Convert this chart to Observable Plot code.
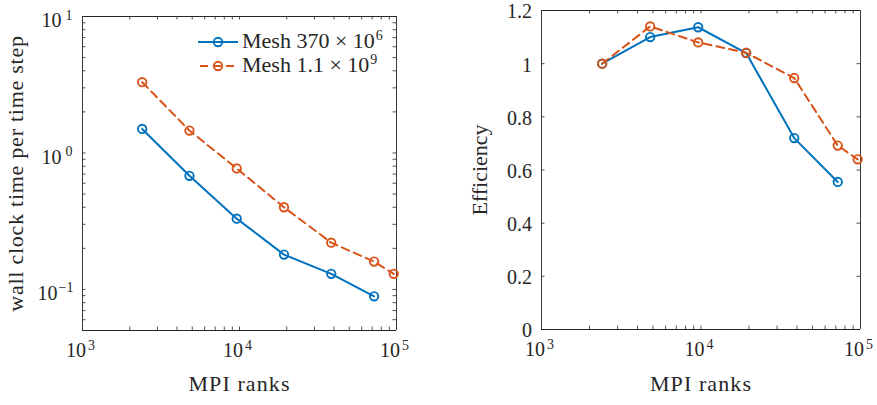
<!DOCTYPE html>
<html>
<head>
<meta charset="utf-8">
<script src="https://cdn.jsdelivr.net/npm/d3@7"></script>
<script src="https://cdn.jsdelivr.net/npm/@observablehq/plot@0.6"></script>
<style>
  html, body { margin: 0; padding: 0; background: #fff; }
  #wrap svg { display: block; }
</style>
</head>
<body style="margin:0;font-family:'Liberation Serif'">
<div id="wrap" style="position:relative;width:877px;height:405px;display:flex;font-family:'Liberation Serif';color:#262626"></div>
<script>
// ---------- data ----------
const seriesNames = ["Mesh 370 × 10^6", "Mesh 1.1 × 10^9"];
const ranks370 = [2400, 4800, 9600, 19200, 38400, 72000];
const ranks11  = [2400, 4800, 9600, 19200, 38400, 72000, 96000];
const time370  = [1.5, 0.68, 0.33, 0.18, 0.13, 0.089];
const time11   = [3.3, 1.46, 0.77, 0.40, 0.22, 0.16, 0.13];
const eff370   = [1.0, 1.10, 1.137, 1.04, 0.72, 0.555];
const eff11    = [1.0, 1.14, 1.08, 1.041, 0.946, 0.692, 0.64];
const xTickExp = [3, 4, 5];
const yTickExpLeft = [-1, 0, 1];
const yTicksRight = [0, 0.2, 0.4, 0.6, 0.8, 1, 1.2];
const yTickLabelsRight = ["0", "0.2", "0.4", "0.6", "0.8", "1", "1.2"];
const xLabel = "MPI ranks";
const yLabelLeft = "wall clock time per time step";
const yLabelRight = "Efficiency";

// ---------- styling ----------
const FONT = "Liberation Serif";
const BLUE = "#0072BD", ORANGE = "#D95319", AX = "#262626";
const T = 3.5; // tick length

const rows370 = ranks370.map((r, i) => ({r, t: time370[i], e: eff370[i]}));
const rows11 = ranks11.map((r, i) => ({r, t: time11[i], e: eff11[i]}));

const xMajor = xTickExp.map(e => 10 ** e);
const xMinor = [];
for (let e = 3; e < 5; e++) for (let k = 2; k <= 9; k++) xMinor.push(k * 10 ** e);
const yMinorLeft = [];
for (let e = -2; e < 1; e++) for (let k = 2; k <= 9; k++) { const v = k * 10 ** e; if (v >= 0.05 && v <= 10) yMinorLeft.push(v); }

const txt = (data, opts) => Plot.text(data, {fontFamily: FONT, fill: AX, ...opts});

function frameLines(xd, yd) {
  return [
    Plot.ruleY([yd[0], yd[1]], {y: d => d, stroke: AX, strokeWidth: 1}),
    Plot.ruleX([xd[0], xd[1]], {x: d => d, stroke: "#3a3a3a", strokeWidth: 1})
  ];
}
function xTicks(vals, innerH) {
  return [
    Plot.tickX(vals, {x: d => d, insetTop: innerH - T, stroke: AX, strokeWidth: 0.8}),
    Plot.tickX(vals, {x: d => d, insetBottom: innerH - T, stroke: AX, strokeWidth: 0.8})
  ];
}
function yTicks(vals, innerW) {
  return [
    Plot.tickY(vals, {y: d => d, insetRight: innerW - T, stroke: AX, strokeWidth: 0.8}),
    Plot.tickY(vals, {y: d => d, insetLeft: innerW - T, stroke: AX, strokeWidth: 0.8})
  ];
}
function xLogLabels() {
  return [
    txt(xTickExp, {x: d => 10 ** d, frameAnchor: "bottom", dy: 26, dx: -6.5, textAnchor: "middle", text: () => "10", fontSize: 20}),
    txt(xTickExp, {x: d => 10 ** d, frameAnchor: "bottom", dy: 19.5, dx: 9, textAnchor: "middle", text: d => String(d), fontSize: 14})
  ];
}
function seriesMarks(yKey) {
  return [
    Plot.line(rows370, {x: "r", y: yKey, stroke: BLUE, strokeWidth: 2}),
    Plot.dot(rows370, {x: "r", y: yKey, r: 4.2, stroke: BLUE, strokeWidth: 1.9, fill: "none"}),
    Plot.line(rows11, {x: "r", y: yKey, stroke: ORANGE, strokeWidth: 2, strokeDasharray: "8,5"}),
    Plot.dot(rows11, {x: "r", y: yKey, r: 4.2, stroke: ORANGE, strokeWidth: 1.9, fill: "none"})
  ];
}

const style = {fontFamily: "'Liberation Serif'", fontSize: "20px", color: AX, background: "#fff", overflow: "visible"};

// ---------- left panel ----------
{
  const W = 440, H = 405, mt = 16, mb = 75, ml = 82, mr = 44;
  const innerW = W - ml - mr, innerH = H - mt - mb;
  const xd = [1e3, 1e5], yd = [0.05, 10];
  const pos = yTickExpLeft.filter(e => e >= 0), neg = yTickExpLeft.filter(e => e < 0);
  const chart = Plot.plot({
    width: W, height: H, marginTop: mt, marginBottom: mb, marginLeft: ml, marginRight: mr,
    style,
    x: {type: "log", domain: xd, axis: null},
    y: {type: "log", domain: yd, axis: null},
    marks: [
      ...xTicks(xMajor, innerH), ...xTicks(xMinor, innerH),
      ...yTicks(yTickExpLeft.map(e => 10 ** e), innerW), ...yTicks(yMinorLeft, innerW),
      ...frameLines(xd, yd),
      ...seriesMarks("t"),
      ...xLogLabels(),
      txt(pos, {y: d => 10 ** d, frameAnchor: "left", dx: -21, dy: 4.5, textAnchor: "end", text: () => "10", fontSize: 20}),
      txt(pos, {y: d => 10 ** d, frameAnchor: "left", dx: -17, dy: -1, textAnchor: "start", text: d => String(d), fontSize: 14}),
      txt(neg, {y: d => 10 ** d, frameAnchor: "left", dx: -25, dy: 4.5, textAnchor: "end", text: () => "10", fontSize: 20}),
      txt(neg, {y: d => 10 ** d, frameAnchor: "left", dx: -24, dy: -1.5, textAnchor: "start", text: d => "−" + String(-d), fontSize: 14}),
      txt([xLabel], {frameAnchor: "bottom", dy: 60, textAnchor: "middle", text: d => d, fontSize: 22}),
      txt([yLabelLeft], {frameAnchor: "left", dx: -67, rotate: -90, textAnchor: "middle", text: d => d, fontSize: 22})
    ]
  });
  document.getElementById("wrap").appendChild(chart);
}

// ---------- right panel ----------
{
  const W = 437, H = 405, mt = 10, mb = 76, ml = 101, mr = 17;
  const innerW = W - ml - mr, innerH = H - mt - mb;
  const xd = [1e3, 1e5], yd = [0, 1.2];
  const chart = Plot.plot({
    width: W, height: H, marginTop: mt, marginBottom: mb, marginLeft: ml, marginRight: mr,
    style,
    x: {type: "log", domain: xd, axis: null},
    y: {type: "linear", domain: yd, axis: null},
    marks: [
      ...xTicks(xMajor, innerH), ...xTicks(xMinor, innerH),
      ...yTicks(yTicksRight, innerW),
      ...frameLines(xd, yd),
      ...seriesMarks("e"),
      ...xLogLabels(),
      txt(yTicksRight, {y: d => d, frameAnchor: "left", dx: -9.5, dy: 1.5, textAnchor: "end", text: (d, i) => yTickLabelsRight[i], fontSize: 20}),
      txt([xLabel], {frameAnchor: "bottom", dy: 61.5, textAnchor: "middle", text: d => d, fontSize: 22}),
      txt([yLabelRight], {frameAnchor: "left", dx: -62, rotate: -90, textAnchor: "middle", text: d => d, fontSize: 22})
    ]
  });
  document.getElementById("wrap").appendChild(chart);
}

// widen axis titles slightly (Computer Modern is wider than Times)
for (const t of document.querySelectorAll("#wrap svg text")) {
  if (t.textContent === xLabel) t.style.letterSpacing = "1.1px";
  else if (t.textContent === yLabelLeft) t.style.letterSpacing = "0.75px";
}

// ---------- legend (inside left axes) ----------
{
  const legend = document.createElement("div");
  legend.setAttribute("style", "position:absolute;left:198px;top:30px;font-family:'Liberation Serif';font-size:22px;line-height:24px;color:#262626");
  const items = [
    {name: seriesNames[0], color: BLUE, dash: null},
    {name: seriesNames[1], color: ORANGE, dash: "8,5"}
  ];
  for (const it of items) {
    const row = document.createElement("div");
    row.setAttribute("style", "display:flex;align-items:center;height:24px;white-space:nowrap");
    const [base, exp] = it.name.split("^");
    row.innerHTML =
      `<svg width="40" height="20" viewBox="0 0 40 20" style="margin-right:4px">` +
      `<line x1="0" y1="10" x2="40" y2="10" stroke="${it.color}" stroke-width="2" ${it.dash ? `stroke-dasharray="${it.dash}" stroke-dashoffset="-2"` : ""}/>` +
      `<circle cx="20" cy="10" r="4.2" fill="none" stroke="${it.color}" stroke-width="1.9"/></svg>` +
      `<span style="font-family:'Liberation Serif'">${base}<sup style="font-size:14px;vertical-align:baseline;position:relative;top:-8px;margin-left:1px">${exp}</sup></span>`;
    legend.appendChild(row);
  }
  document.getElementById("wrap").appendChild(legend);
}
</script>
</body>
</html>
